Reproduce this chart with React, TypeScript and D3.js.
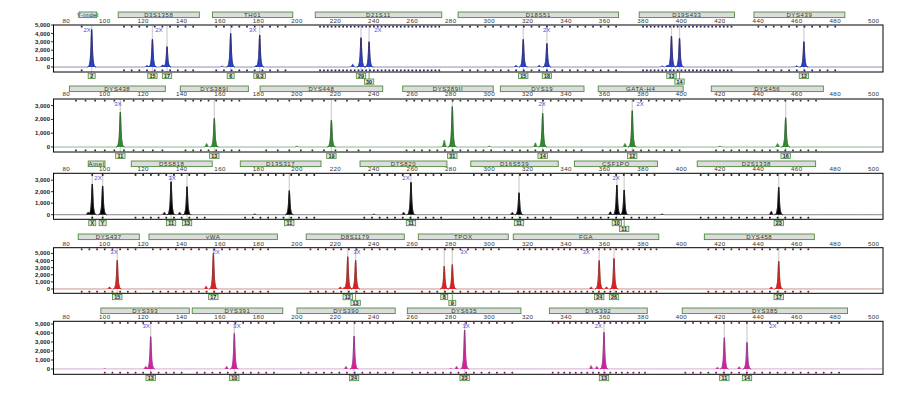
import React from "react";
import * as d3 from "d3";

// ---------- DATA ----------
const X_TICKS = [80, 100, 120, 140, 160, 180, 200, 220, 240, 260, 280, 300, 320, 340, 360, 380, 400, 420, 440, 460, 480, 500];

// loci: name, start bp, end bp, bin start, bin step
const LOCI_1 = [
  { name: "Y-indel", start: 86.6, end: 95.8, bin0: 88, step: 7.6 },
  { name: "D3S1358", start: 107, end: 149.2, bin0: 110, step: 4 },
  { name: "TH01", start: 156, end: 197.8, bin0: 158, step: 4 },
  { name: "D21S11", start: 209.5, end: 275.3, bin0: 212, step: 2 },
  { name: "D18S51", start: 283.8, end: 367.3, bin0: 286, step: 4 },
  { name: "D19S433", start: 378, end: 427.6, bin0: 380, step: 2 },
  { name: "DYS439", start: 437.7, end: 485, bin0: 440, step: 4 },
];
const LOCI_2 = [
  { name: "DYS438", start: 81.6, end: 131.5, bin0: 85, step: 5 },
  { name: "DYS389I", start: 139.3, end: 174.7, bin0: 142, step: 4 },
  { name: "DYS448", start: 180.8, end: 244.6, bin0: 184, step: 6 },
  { name: "DYS389II", start: 255, end: 302.1, bin0: 257, step: 4 },
  { name: "DYS19", start: 305.8, end: 349.3, bin0: 308, step: 4 },
  { name: "GATA-H4", start: 356.7, end: 400.9, bin0: 359, step: 4 },
  { name: "DYS456", start: 415.5, end: 473.8, bin0: 418, step: 4 },
];
const LOCI_3 = [
  { name: "Amel", start: 91.4, end: 100.1, bin0: 93.5, step: 5.4 },
  { name: "D5S818", start: 113.8, end: 155.9, bin0: 116, step: 4 },
  { name: "D13S317", start: 170.5, end: 212.5, bin0: 173, step: 4 },
  { name: "D7S820", start: 232.8, end: 278, bin0: 235, step: 4 },
  { name: "D16S539", start: 290.4, end: 335.9, bin0: 292, step: 4 },
  { name: "CSF1PO", start: 344.3, end: 387.5, bin0: 346, step: 4 },
  { name: "D2S1338", start: 408.2, end: 469.8, bin0: 410, step: 4 },
];
const LOCI_4 = [
  { name: "DYS437", start: 86.2, end: 118, bin0: 88, step: 4 },
  { name: "vWA", start: 123, end: 189.8, bin0: 125, step: 4 },
  { name: "D8S1179", start: 204.8, end: 255.8, bin0: 207, step: 4 },
  { name: "TPOX", start: 263.1, end: 309.9, bin0: 265, step: 4 },
  { name: "FGA", start: 312.5, end: 388.2, bin0: 315, step: 3 },
  { name: "DYS458", start: 411.9, end: 469.1, bin0: 414, step: 4 },
];
const LOCI_5 = [
  { name: "DYS393", start: 98, end: 144, bin0: 100, step: 4 },
  { name: "DYS391", start: 145.5, end: 192.6, bin0: 148, step: 4 },
  { name: "DYS390", start: 200, end: 251.1, bin0: 202, step: 4 },
  { name: "DYS635", start: 257.4, end: 316.5, bin0: 260, step: 4 },
  { name: "DYS392", start: 331.3, end: 382.2, bin0: 333, step: 3 },
  { name: "DYS385", start: 400.4, end: 486.4, bin0: 402, step: 4 },
];

// called alleles: bp, height (RFU), label, label row
const ALLELES_1 = [
  { bp: 93.2, h: 4490, label: "2", row: 1 },
  { bp: 124.8, h: 3300, label: "15", row: 1 },
  { bp: 132.4, h: 2420, label: "17", row: 1 },
  { bp: 165.5, h: 4000, label: "6", row: 1 },
  { bp: 180.6, h: 3800, label: "9.3", row: 1 },
  { bp: 233.3, h: 3490, label: "29", row: 1 },
  { bp: 237.5, h: 3010, label: "30", row: 2 },
  { bp: 317.7, h: 3300, label: "15", row: 1 },
  { bp: 330.0, h: 2800, label: "18", row: 1 },
  { bp: 394.8, h: 3690, label: "13", row: 1 },
  { bp: 399.0, h: 3420, label: "14", row: 2 },
  { bp: 463.7, h: 3010, label: "12", row: 1 },
];
const ALLELES_2 = [
  { bp: 108.1, h: 2515, label: "11", row: 1 },
  { bp: 157.0, h: 2080, label: "13", row: 1 },
  { bp: 217.9, h: 1960, label: "19", row: 1 },
  { bp: 280.8, h: 2920, label: "31", row: 1 },
  { bp: 327.8, h: 2440, label: "14", row: 1 },
  { bp: 374.4, h: 2630, label: "12", row: 1 },
  { bp: 454.2, h: 2120, label: "16", row: 1 },
];
const ALLELES_3 = [
  { bp: 93.5, h: 2670, label: "X", row: 1 },
  { bp: 98.9, h: 2500, label: "Y", row: 1 },
  { bp: 134.5, h: 2870, label: "11", row: 1 },
  { bp: 142.8, h: 2440, label: "13", row: 1 },
  { bp: 196.0, h: 2090, label: "11", row: 1 },
  { bp: 259.3, h: 2820, label: "11", row: 1 },
  { bp: 315.5, h: 1910, label: "11", row: 1 },
  { bp: 366.4, h: 2580, label: "10", row: 1 },
  { bp: 370.2, h: 2150, label: "11", row: 2 },
  { bp: 450.6, h: 2380, label: "23", row: 1 },
];
const ALLELES_4 = [
  { bp: 106.5, h: 4040, label: "15", row: 1 },
  { bp: 156.5, h: 4950, label: "17", row: 1 },
  { bp: 226.4, h: 4530, label: "12", row: 1 },
  { bp: 230.5, h: 4040, label: "13", row: 2 },
  { bp: 276.6, h: 3190, label: "8", row: 1 },
  { bp: 280.8, h: 3430, label: "9", row: 2 },
  { bp: 357.2, h: 4000, label: "24", row: 1 },
  { bp: 364.9, h: 4290, label: "26", row: 1 },
  { bp: 450.6, h: 3900, label: "17", row: 1 },
];
const ALLELES_5 = [
  { bp: 123.9, h: 3590, label: "13", row: 1 },
  { bp: 167.4, h: 3960, label: "10", row: 1 },
  { bp: 229.7, h: 3670, label: "24", row: 1 },
  { bp: 287.2, h: 4330, label: "23", row: 1 },
  { bp: 359.7, h: 4070, label: "13", row: 1 },
  { bp: 422.3, h: 3480, label: "11", row: 1 },
  { bp: 434.1, h: 2960, label: "14", row: 1 },
];

// minor (stutter / noise) peaks: [bp, height]
const MINOR_1 = [[122, 200], [130, 250], [161, 100], [178.6, 120], [229, 320], [313.9, 200], [326, 200], [390, 100], [392.5, 200], [459.9, 150]];
const MINOR_2 = [[153, 250], [276.6, 500], [324, 300], [370.6, 250], [450, 250], [200, 60], [300, 60], [420, 60]];
const MINOR_3 = [[91.3, 200], [131, 200], [139, 200], [255.5, 200], [312, 200], [363, 250], [446.7, 300], [178, 60], [240, 50], [390, 60]];
const MINOR_4 = [[102.5, 300], [152.7, 400], [222.5, 300], [353, 300], [361, 300], [446.7, 300], [224.5, 150]];
const MINOR_5 = [[121.3, 300], [163.4, 300], [225.5, 300], [283, 300], [353, 400], [356, 300], [418.7, 200], [430, 250], [100, 60], [280, 80]];

// dye-scaling markers: bp, text
const MULT_1 = [{ bp: 90.8, t: "2X" }, { bp: 128.2, t: "2X" }, { bp: 177, t: "3X" }, { bp: 242.1, t: "2X" }, { bp: 329.9, t: "2X" }];
const MULT_2 = [{ bp: 106.9, t: "3X" }, { bp: 327.5, t: "2X" }, { bp: 378.5, t: "2X" }];
const MULT_3 = [{ bp: 96.5, t: "2X" }, { bp: 135, t: "3X" }, { bp: 256.7, t: "2X" }, { bp: 366, t: "2X" }];
const MULT_4 = [{ bp: 104.8, t: "3X" }, { bp: 157.9, t: "2X" }, { bp: 231.2, t: "3X" }, { bp: 286.9, t: "3X" }, { bp: 350.4, t: "3X" }];
const MULT_5 = [{ bp: 121.5, t: "3X" }, { bp: 168.8, t: "3X" }, { bp: 288, t: "3X" }, { bp: 356.8, t: "2X" }, { bp: 447.6, t: "2X" }];

const Y_TICKS_5K = [0, 1000, 2000, 3000, 4000, 5000];
const Y_TICKS_3K = [0, 1000, 2000, 3000];

// ---------- LAYOUT / STYLE ----------
const W = 903, H = 394;
const PX0 = 53.5, PX1 = 883;
const FONT = "'Liberation Sans', Arial, sans-serif";

const PANELS = [
  { loci: LOCI_1, alleles: ALLELES_1, minor: MINOR_1, mult: MULT_1, yTicks: Y_TICKS_5K, boxY: 12, xLabY: 23.2, top: 25, bottom: 72, yMax: 5000, yMin: -595, stroke: "#22226e", base: "#55558e", fill: "#2442d8", bin: "#20205a" },
  { loci: LOCI_2, alleles: ALLELES_2, minor: MINOR_2, mult: MULT_2, yTicks: Y_TICKS_3K, boxY: 86, xLabY: 96.2, top: 99, bottom: 152, yMax: 3478, yMin: -362, stroke: "#2a5e2a", base: "#5a8a5a", fill: "#2e8e2e", bin: "#1f3f1f" },
  { loci: LOCI_3, alleles: ALLELES_3, minor: MINOR_3, mult: MULT_3, yTicks: Y_TICKS_3K, boxY: 161, xLabY: 171.4, top: 173.3, bottom: 219.3, yMax: 3600, yMin: -400, stroke: "#111111", base: "#333333", fill: "#000000", bin: "#111111" },
  { loci: LOCI_4, alleles: ALLELES_4, minor: MINOR_4, mult: MULT_4, yTicks: Y_TICKS_5K, boxY: 234, xLabY: 246.4, top: 247.7, bottom: 293.3, yMax: 5800, yMin: -604, stroke: "#8e2424", base: "#b85a5a", fill: "#ee1a1a", bin: "#7a1010" },
  { loci: LOCI_5, alleles: ALLELES_5, minor: MINOR_5, mult: MULT_5, yTicks: Y_TICKS_5K, boxY: 308, xLabY: 319.2, top: 321.3, bottom: 374.3, yMax: 5300, yMin: -589, stroke: "#86287c", base: "#c07cc0", fill: "#de1a9c", bin: "#6a1a5a" },
];

const x = d3.scaleLinear().domain([80, 500]).range([66.3, 873.7]);

function Panel({ p, idx }: any) {
  const y = d3.scaleLinear().domain([p.yMin, p.yMax]).range([p.bottom, p.top]);
  const lo = x.invert(PX0 + 0.5), hi = x.invert(PX1 - 0.5);
  const pts = d3.range(lo, hi, 0.04).map((b) => {
    let v = 0;
    for (const a of p.alleles) {
      const d = b - a.bp;
      v += a.h * (0.6 * Math.exp(-(d * d) / (2 * 0.26 * 0.26)) + 0.4 * Math.exp(-(d * d) / (2 * 0.62 * 0.62)));
    }
    for (const m of p.minor) {
      const d = b - m[0];
      v += m[1] * Math.exp(-(d * d) / (2 * 0.45 * 0.45));
    }
    return [b, v];
  });
  const area = d3.area<any>().x((d) => x(d[0])).y0(y(0)).y1((d) => y(d[1]));
  const line = d3.line<any>().x((d) => x(d[0])).y((d) => y(d[1]));
  const fmt = d3.format(",");
  const clipId = "clip" + idx;

  const bins: number[] = [];
  p.loci.forEach((l: any) => {
    d3.range(l.bin0, l.end - 1, l.step).forEach((b: number) => bins.push(b));
  });

  return (
    <g>
      <defs>
        <clipPath id={clipId}>
          <rect x={PX0} y={p.top} width={PX1 - PX0} height={p.bottom - p.top} />
        </clipPath>
      </defs>
      {p.loci.map((l: any, i: number) => (
        <g key={"l" + i}>
          <rect x={x(l.start)} y={p.boxY} width={x(l.end) - x(l.start)} height={5.6} fill="#dcdcdc" stroke="#4f8a3f" strokeWidth={0.9} />
          <text x={(x(l.start) + x(l.end)) / 2} y={p.boxY + 4.9} fontSize={6} textAnchor="middle" fill="#333" fontFamily={FONT} letterSpacing={0.6}>
            {l.name}
          </text>
        </g>
      ))}
      {X_TICKS.map((t) => (
        <text key={"xt" + t} x={x(t)} y={p.xLabY} fontSize={6.2} textAnchor="middle" fill="#333" fontFamily={FONT} letterSpacing={0.4}>
          {t}
        </text>
      ))}
      {p.alleles.map((a: any, i: number) => (
        <line key={"al" + i} x1={x(a.bp)} x2={x(a.bp)} y1={p.top} y2={p.bottom} stroke="#d2d2d2" strokeWidth={1.3} />
      ))}
      <g clipPath={`url(#${clipId})`}>
        <path d={area(pts) || ""} fill={p.fill} stroke="none" />
        <path d={line(pts) || ""} fill="none" stroke={p.base} strokeWidth={0.7} />
        {p.alleles.map((a: any, i: number) => {
          const seg = pts.filter((d: any) => Math.abs(d[0] - a.bp) < 2.2);
          return <path key={"pk" + i} d={line(seg) || ""} fill="none" stroke={p.stroke} strokeWidth={0.8} />;
        })}
      </g>
      {bins.map((b, i) => (
        <g key={"b" + i}>
          <rect x={x(b) - 0.85} y={p.top + 0.8} width={1.7} height={1.7} fill={p.bin} />
          <rect x={x(b) - 0.85} y={p.bottom - 2.5} width={1.7} height={1.7} fill={p.bin} />
        </g>
      ))}
      <rect x={PX0} y={p.top} width={PX1 - PX0} height={p.bottom - p.top} fill="none" stroke="#000" strokeWidth={1} />
      {p.yTicks.map((t: number) => (
        <g key={"yt" + t}>
          <line x1={PX0 - 2.5} x2={PX0} y1={y(t)} y2={y(t)} stroke="#000" strokeWidth={0.8} />
          <text x={PX0 - 3.5} y={y(t) + 2.1} fontSize={6} fontWeight={700} textAnchor="end" fill="#222" fontFamily={FONT}>
            {fmt(t)}
          </text>
        </g>
      ))}
      {p.mult.map((m: any, i: number) => (
        <text key={"m" + i} x={x(m.bp)} y={p.top + 6.5} fontSize={6} textAnchor="middle" fill="#4f4fc8" fontFamily={FONT}>
          {m.t}
        </text>
      ))}
      {p.alleles.map((a: any, i: number) => {
        const w = 2.4 * a.label.length + 4.6;
        const by = a.row === 1 ? p.bottom + 1.2 : p.bottom + 7;
        return (
          <g key={"ab" + i}>
            {a.row === 2 && <line x1={x(a.bp)} x2={x(a.bp)} y1={p.bottom} y2={by} stroke="#4f8a3f" strokeWidth={0.8} />}
            <rect x={x(a.bp) - w / 2} y={by} width={w} height={5.2} fill="#e2e6dc" stroke="#4f8a3f" strokeWidth={0.8} />
            <text x={x(a.bp)} y={by + 4.5} fontSize={5.4} fontWeight={700} textAnchor="middle" fill="#222" fontFamily={FONT}>
              {a.label}
            </text>
          </g>
        );
      })}
    </g>
  );
}

export default function App() {
  return (
    <svg width={W} height={H} style={{ position: "absolute", left: 0, top: 0, background: "#fff" }}>
      <rect x={0} y={0} width={W} height={H} fill="#fff" />
      {PANELS.map((p, i) => (
        <Panel key={i} p={p} idx={i} />
      ))}
    </svg>
  );
}
